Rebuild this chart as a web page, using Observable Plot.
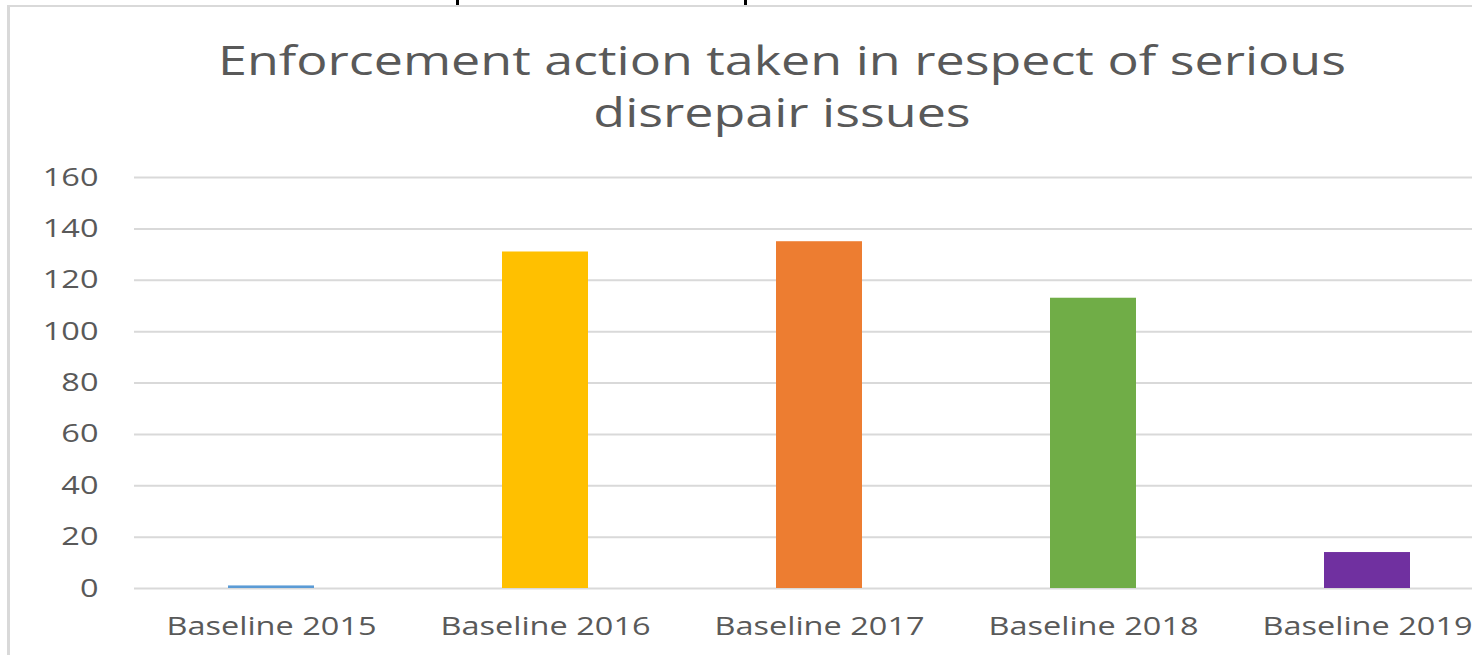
<!DOCTYPE html>
<html>
<head>
<meta charset="utf-8">
<script src="https://cdn.jsdelivr.net/npm/d3@7"></script>
<script src="https://cdn.jsdelivr.net/npm/@observablehq/plot@0.6"></script>
<style>
  html, body { margin: 0; padding: 0; background: #fff; overflow: hidden; }
  #wrap { position: relative; width: 1472px; height: 655px; overflow: hidden; font-family: "Open Sans", sans-serif; }
  #frame { position: absolute; left: 7px; top: 5px; width: 2000px; height: 1000px;
           border-left: 3px solid #d9d9d9; border-top: 2px solid #d9d9d9; box-sizing: border-box; }
  #title { position: absolute; left: 0; top: 34px; width: 1564px; text-align: center;
           font-size: 40px; line-height: 52px; color: #595959; transform: scaleX(1.3); transform-origin: center top; }
  #chart { position: absolute; left: 0; top: 0; }
  .frag { position: absolute; top: 0; width: 3px; height: 5px; background: #000; }
</style>
</head>
<body>
<div id="wrap">
  <div id="frame"></div>
  <div class="frag" style="left:456px"></div>
  <div class="frag" style="left:744px"></div>
  <div id="chart"></div>
  <div id="title">Enforcement action taken in respect of serious<br>disrepair issues</div>
</div>
<script>
const categories = ["Baseline 2015", "Baseline 2016", "Baseline 2017", "Baseline 2018", "Baseline 2019"];
const values = [1, 131, 135, 113, 14];
const colors = ["#5B9BD5", "#FFC000", "#ED7D31", "#70AD47", "#7030A0"];
const yTicks = [0, 20, 40, 60, 80, 100, 120, 140, 160];

const data = categories.map((c, i) => ({category: c, value: values[i]}));

const chart = Plot.plot({
  width: 1472,
  height: 655,
  marginTop: 177,
  marginBottom: 67,
  marginLeft: 134,
  marginRight: 0,
  style: {fontSize: "25px", fontFamily: "Open Sans, sans-serif", color: "#595959", background: "transparent", overflow: "visible"},
  x: {domain: categories, range: [134, 1504], paddingInner: 0.686, paddingOuter: 0.343, tickSize: 0, tickPadding: 29, label: null},
  y: {domain: [0, 160], ticks: yTicks, tickSize: 0, tickPadding: 36, label: null},
  color: {domain: categories, range: colors},
  marks: [
    Plot.ruleY(yTicks, {stroke: "#d9d9d9", strokeWidth: 2}),
    Plot.barY(data, {x: "category", y: "value", fill: "category"})
  ]
});
document.getElementById("chart").appendChild(chart);

// Horizontally stretch the axis text (about each label's own anchor) to match the reference's wide lettering
d3.select(chart).selectAll("text").each(function() {
  const t = this.getAttribute("transform") || "";
  const x = +(this.getAttribute("x") || 0);
  this.setAttribute("transform", `${t} translate(${x},0) scale(1.3,1) translate(${-x},0)`);
});
</script>
</body>
</html>
